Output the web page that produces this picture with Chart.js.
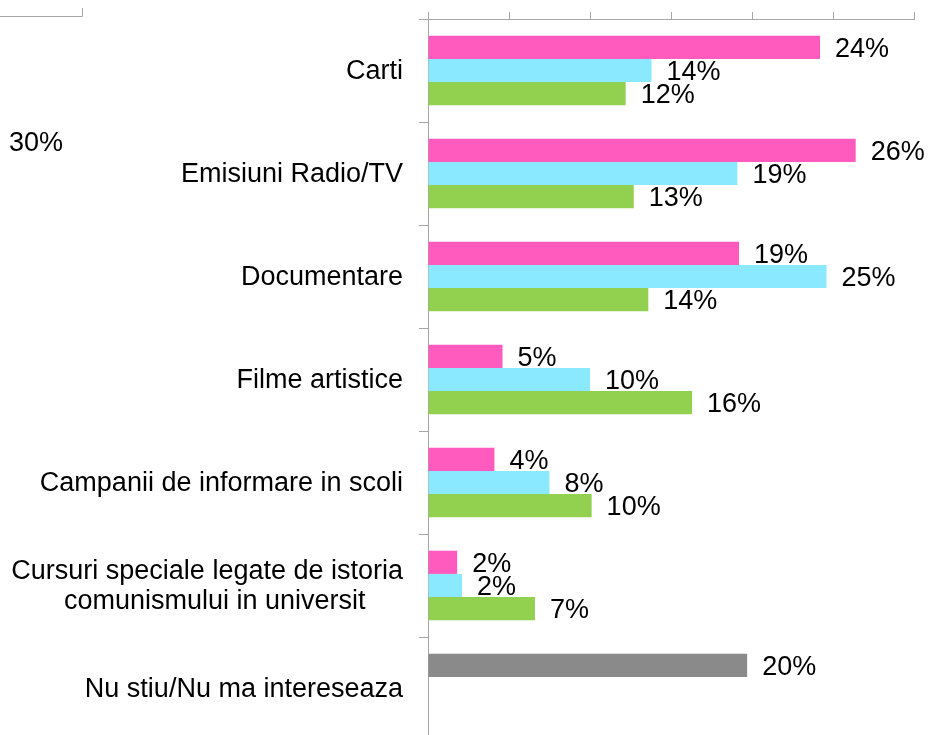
<!DOCTYPE html>
<html>
<head>
<meta charset="utf-8">
<script src="https://cdn.jsdelivr.net/npm/chart.js@4"></script>
<style>
html,body{margin:0;padding:0;background:#fff;overflow:hidden;}
#wrap{width:931px;height:735px;overflow:hidden;position:relative;}
canvas{display:block;}
</style>
</head>
<body>
<div id="wrap"><canvas id="c" width="931" height="742" style="width:931px;height:742px"></canvas></div>
<script>
const categories = [
  "Carti",
  "Emisiuni Radio/TV",
  "Documentare",
  "Filme artistice",
  "Campanii de informare in scoli",
  ["Cursuri speciale legate de istoria", "comunismului in universit     "],
  "Nu stiu/Nu ma intereseaza"
];
const seriesA = [24.2, 26.4, 19.2, 4.6, 4.1, 1.8, 19.7];
const seriesB = [13.8, 19.1, 24.6, 10.0, 7.5, 2.1, null];
const seriesC = [12.2, 12.7, 13.6, 16.3, 10.1, 6.6, null];
const xTicks = [0, 5, 10, 15, 20, 25, 30];
const strayLabel = "30%";

const FONT = "'Liberation Sans', Arial, sans-serif";
const PINK = "#FF5ABE", CYAN = "#8BE9FF", GREEN = "#92D050", GRAY = "#8A8A8A";
const AXIS = "#A6A6A6";

const valueLabels = {
  id: "valueLabels",
  afterDatasetsDraw(chart) {
    const ctx = chart.ctx;
    ctx.save();
    ctx.font = "27px " + FONT;
    ctx.fillStyle = "#000";
    ctx.textAlign = "left";
    ctx.textBaseline = "middle";
    chart.data.datasets.forEach((ds, i) => {
      const meta = chart.getDatasetMeta(i);
      meta.data.forEach((el, j) => {
        const v = ds.data[j];
        if (v === null || v === undefined) return;
        ctx.fillText(Math.round(v) + "%", el.x + 15, el.y + 2);
      });
    });
    ctx.restore();
  }
};

const extras = {
  id: "extras",
  afterDraw(chart) {
    const ctx = chart.ctx;
    ctx.save();
    ctx.strokeStyle = AXIS;
    ctx.lineWidth = 1;
    ctx.beginPath();
    ctx.moveTo(0, 16.5); ctx.lineTo(82.5, 16.5); ctx.lineTo(82.5, 8);
    ctx.stroke();
    ctx.font = "27px " + FONT;
    ctx.fillStyle = "#000";
    ctx.textAlign = "left";
    ctx.textBaseline = "middle";
    ctx.fillText(strayLabel, 9, 144);
    ctx.restore();
  }
};

new Chart(document.getElementById("c"), {
  type: "bar",
  data: {
    labels: categories,
    datasets: [
      { data: seriesA, backgroundColor: [PINK, PINK, PINK, PINK, PINK, PINK, GRAY] },
      { data: seriesB, backgroundColor: CYAN },
      { data: seriesC, backgroundColor: GREEN }
    ]
  },
  options: {
    indexAxis: "y",
    responsive: false,
    animation: false,
    devicePixelRatio: 1,
    layout: { padding: { top: 12, right: 17, bottom: 2, left: 0 } },
    plugins: { legend: { display: false }, tooltip: { enabled: false } },
    datasets: { bar: { categoryPercentage: 0.675, barPercentage: 1.0, borderWidth: 0 } },
    scales: {
      x: {
        position: "top",
        min: xTicks[0],
        max: xTicks[xTicks.length - 1],
        afterBuildTicks(scale) { scale.ticks = xTicks.map(v => ({ value: v })); },
        afterFit(scale) { scale.paddingLeft = 0; scale.paddingRight = 0; scale.paddingTop = 0; scale.paddingBottom = 0; },
        ticks: { display: false },
        grid: { drawOnChartArea: false, drawTicks: true, tickLength: 7, color: AXIS, lineWidth: 1 },
        border: { color: AXIS, width: 1 }
      },
      y: {
        afterFit(scale) { scale.width = 428; scale.paddingTop = 0; scale.paddingBottom = 0; },
        ticks: { font: { family: FONT, size: 27, lineHeight: 1.11 }, color: "#000", padding: 16, labelOffset: 1 },
        grid: { drawOnChartArea: false, drawTicks: true, tickLength: 9, offset: true, color: AXIS, lineWidth: 1 },
        border: { color: AXIS, width: 1 }
      }
    }
  },
  plugins: [valueLabels, extras]
});
</script>
</body>
</html>
